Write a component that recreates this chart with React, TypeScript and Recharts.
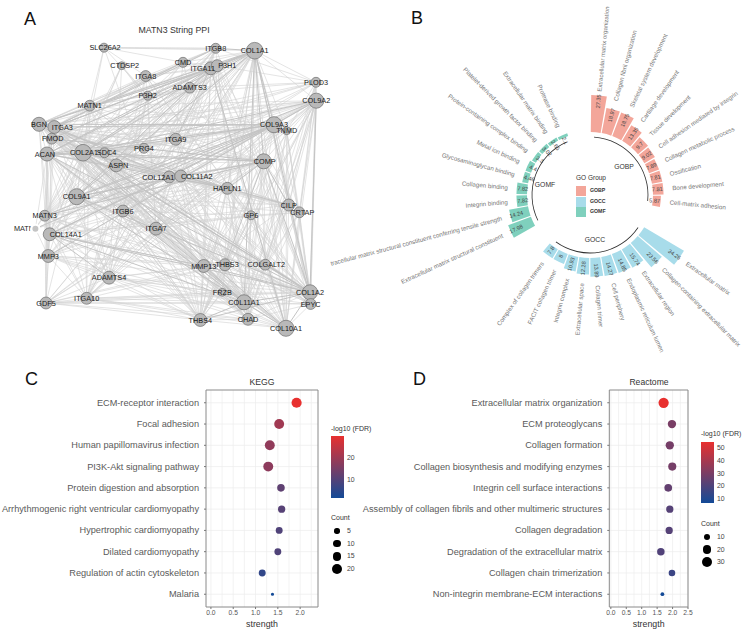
import React from 'react';
import {
  ComposedChart, Line, Scatter, ScatterChart, XAxis, YAxis, ZAxis, CartesianGrid, ReferenceArea, Cell, LabelList,
  RadialBarChart, RadialBar, PolarAngleAxis, PolarRadiusAxis, PieChart, Pie,
} from 'recharts';

const FONT = '"Liberation Sans", Arial, sans-serif';

// ---- panel A: layout, in picture units
const nodeNames = ['SLC26A2', 'ITGB8', 'COL1A1', 'CMD', 'ITGA11', 'P3H1', 'CTDSP2', 'ITGA8', 'PLOD3', 'ADAMTS3', 'P3H2', 'COL9A2', 'MATN1', 'BGN', 'ITGA3', 'COL9A3', 'TNMD', 'FMOD', 'ITGA9', 'PRG4', 'COL2A1', 'SDC4', 'ACAN', 'ASPN', 'COMP', 'COL12A1', 'COL11A2', 'HAPLN1', 'COL9A1', 'CILP', 'CRTAP', 'ITGB6', 'MATN3', 'GP6', 'MATN4', 'COL14A1', 'ITGA7', 'MMP3', 'MMP13', 'THBS3', 'COLGALT2', 'ADAMTS4', 'ITGA10', 'GDF5', 'FRZB', 'COL1A2', 'COL11A1', 'EPYC', 'THBS4', 'CHAD', 'COL10A1'];
const nodeX = [104, 215.7, 254.7, 183, 210.7, 217.3, 121.7, 145.7, 316, 189.7, 147.7, 316.3, 89.7, 39, 54.3, 274, 286.7, 51.7, 175.7, 144, 83, 104.5, 47, 116.3, 263.7, 169.3, 180.7, 227.3, 76.7, 288.7, 299.3, 123, 44.7, 251, 35.4, 49.7, 156, 48.3, 203.7, 225, 265.3, 109, 86.7, 46, 222.3, 310, 244, 310.7, 200.3, 248, 286];
const nodeY = [47.7, 48.3, 50.7, 62.3, 68.3, 65.7, 65.7, 76, 82.3, 87.7, 95.7, 100.7, 105.7, 124.3, 127, 124.7, 130.7, 138.7, 139.3, 148.3, 152.7, 152.7, 154, 165.3, 161.3, 177, 176, 188.3, 196.7, 205, 212.3, 211, 215.7, 215.3, 228.7, 234.3, 228.7, 256, 266, 264.7, 264.7, 277.7, 298.3, 303, 292.3, 292.3, 302.3, 304, 320, 319.3, 328.3];
const nodeDegree = [7, 10, 39, 10, 21, 17, 4, 13, 10, 13, 7, 31, 13, 26, 21, 36, 4, 13, 17, 10, 39, 10, 26, 21, 31, 17, 17, 17, 36, 17, 13, 17, 13, 7, 4, 21, 21, 21, 21, 17, 13, 21, 17, 17, 4, 31, 31, 13, 21, 17, 36];
const labelShift = [1, 0, 0, 0, -8, 10, 3, 0, 0, 0, 0, 0, 0, 0, 8, 0, 0, 1, 0, 0, 1, 2, -2, 2, 1, -11, 16, 0, 0, 0, 3, 0, 0, 0, -9.4, 16, 0, 0, 0, 2, 1, 0, 0, 0, 0, 0, 0, 0, 0, 0, 0];

// who is tied to whom
const heavyLinks: [string, string][] = [
  ['COL1A1', 'COL1A2 COL2A1 COL9A3 COMP BGN ITGA3 COL11A1 ITGA11 FMOD ACAN P3H1 ITGB8 COL9A1'],
  ['COL9A3', 'COL2A1 COL9A1 ACAN BGN ITGA3 COL14A1 MATN3 COL9A2 COL12A1 MATN4 MMP3'],
  ['COL2A1', 'COL1A2 COL10A1 COL11A1 COMP ACAN COL9A2 ITGA11 HAPLN1 COL12A1'],
  ['COL9A1', 'COL9A2 COL1A2 COMP COL11A2 COL11A1 ITGA11'],
  ['COL1A2', 'BGN COMP COL11A1 MMP13 THBS4 ITGA3 COL14A1 ACAN COL9A2 COL10A1'],
  ['COMP', 'ACAN MATN3 HAPLN1 CILP COL11A2 THBS3 FMOD'],
  ['HAPLN1', 'CILP ACAN COL11A2 COL12A1 BGN'],
  ['ITGA3', 'ITGB8 CMD ITGA11 COL12A1'],
  ['COL11A1', 'THBS4 MMP13 ITGA7 COL10A1 ACAN'],
  ['COL14A1', 'COL12A1 COL11A1 ADAMTS4 MMP13'],
  ['ITGA11', 'BGN ACAN ITGA9 COL10A1'],
];
const lightLinks: [string, string][] = [
  ['COL1A1', 'CMD ITGA8 ADAMTS3 PLOD3 COL9A2 ASPN COL12A1 COL11A2 HAPLN1 CILP CRTAP TNMD ITGB6 ITGA7 MMP3 MMP13 THBS3 COLGALT2 FRZB EPYC THBS4 CHAD COL10A1 ITGA10 COL14A1 ADAMTS4 SLC26A2 MATN1 MATN3 PRG4 SDC4 GP6 ITGA9 P3H2 GDF5'],
  ['COL1A2', 'COL2A1 COL9A3 FMOD ASPN COL12A1 COL11A2 ITGB6 ITGA7 MMP3 THBS3 COLGALT2 FRZB EPYC CHAD ITGA10 ADAMTS4 GDF5 MATN3 HAPLN1 CILP CRTAP PLOD3 ITGA11 ITGA8 ITGA9 PRG4 TNMD P3H1 SDC4 ITGB8'],
  ['COL2A1', 'COL9A3 COL9A1 BGN FMOD MATN1 MATN3 MATN4 COL11A2 CHAD CILP CRTAP THBS3 THBS4 MMP3 MMP13 ITGA10 GDF5 SLC26A2 ITGB8 PLOD3 P3H1 P3H2 CTDSP2 EPYC COL14A1 ASPN ITGA3 PRG4 ADAMTS4 ADAMTS3 COLGALT2 ITGA7 ITGB6 ITGA9 ITGA8 CMD TNMD'],
  ['COL9A1', 'COL9A3 MATN3 MATN1 ACAN COL10A1 THBS4 MMP13 CHAD HAPLN1 ITGB8 PLOD3 P3H1 BGN THBS3 EPYC CMD ADAMTS3 ITGA3 COLGALT2 CILP CRTAP'],
  ['COL9A3', 'COMP COL11A1 COL11A2 COL10A1 TNMD ITGB6 FMOD ITGA7 HAPLN1 GDF5 MATN1 EPYC ASPN ADAMTS4 ITGA10 PRG4 SDC4 THBS4 MMP13'],
  ['COL9A2', 'COMP COL11A1 COL11A2 COL10A1 MATN3 MATN1 ACAN BGN EPYC CILP CRTAP TNMD PLOD3 ITGA3 FMOD ASPN COL12A1 COL14A1 MATN4 MMP3 HAPLN1 THBS4 CHAD MMP13 ITGA7 ITGB6 GDF5 THBS3 COLGALT2 ITGA10 ITGA9 SDC4'],
  ['COL10A1', 'COL11A1 COL11A2 COL12A1 COMP MMP3 MMP13 ACAN BGN ITGA3 FMOD THBS4 CHAD EPYC THBS3 COLGALT2 HAPLN1 ASPN GP6 ITGA10 ITGB6 ITGA7 MATN3 COL14A1 CILP ITGA9 TNMD CRTAP'],
  ['COL11A1', 'COL11A2 COL12A1 COMP BGN FMOD ASPN CHAD EPYC THBS3 COLGALT2 HAPLN1 GP6 ITGA10 ITGB6 MATN3 MATN1 FRZB ITGA9 SDC4 ADAMTS4 MMP3 PRG4 GDF5 CRTAP CILP ITGA3'],
  ['COL11A2', 'COL12A1 ACAN BGN MATN3 MATN1 THBS4 CHAD MMP13 ITGA11 FMOD ITGA3 P3H1 EPYC'],
  ['COL12A1', 'BGN ACAN FMOD ASPN MMP13 THBS4 ITGA7 ITGA3 HAPLN1 COMP ITGB8 MMP3 CILP'],
  ['COMP', 'BGN ASPN MATN1 MATN3 MATN4 THBS4 MMP3 MMP13 CHAD GDF5 ITGA7 ITGA3 ITGB6 CILP CRTAP GP6 COLGALT2 ITGA11 ITGA8 ITGA10 PRG4 EPYC ITGA9'],
  ['ACAN', 'BGN FMOD ASPN MATN1 MATN3 MATN4 MMP3 MMP13 THBS4 ADAMTS4 ADAMTS3 GDF5 PRG4 CHAD ITGA10 ITGA3 SDC4 FRZB EPYC THBS3 CILP COL14A1 ITGA8'],
  ['BGN', 'FMOD ASPN MATN1 MMP3 MMP13 THBS4 ITGA3 SDC4 PRG4 ITGB8 ADAMTS4 COL14A1 EPYC CILP CHAD THBS3 ITGA8 CMD P3H1 ADAMTS3'],
  ['ITGA3', 'ITGA8 ITGB6 ITGA9 MATN1 COL14A1 THBS4 THBS3 MMP13 SDC4 ITGA7 P3H1 ADAMTS3 GP6 CILP FMOD THBS4'],
  ['ITGA11', 'FMOD COL14A1 MATN3 MMP3 THBS4 MMP13 ITGA7 ITGA8 ITGB8 P3H1 GP6 COL10A1 ITGB6 MATN1 CMD ADAMTS3'],
  ['ITGB8', 'ITGA8 ITGA9 ITGA7 SLC26A2 CMD P3H1 ITGA10 MATN1 ASPN COL14A1 ITGB6 MATN3'],
  ['THBS4', 'CHAD COL14A1 ITGA7 GDF5 ITGA10 ADAMTS4 MMP3 ITGB6 HAPLN1 COL9A2 ASPN THBS3 FRZB MMP13'],
  ['MMP13', 'MMP3 ASPN ADAMTS4 ITGA7 COL14A1 GDF5 FRZB MATN3 CHAD HAPLN1 THBS3 ITGA9 ITGB6 SDC4'],
  ['MMP3', 'GDF5 ITGA10 ADAMTS4 MATN3 COL14A1 FMOD ITGA7 ASPN THBS3 MATN4'],
  ['GDF5', 'ITGA10 MATN3 COL14A1 ADAMTS4 CHAD FRZB THBS3 ACAN EPYC ITGB6'],
  ['MATN3', 'MATN1 MATN4 COL14A1 ITGA10 FMOD ADAMTS4 P3H2 ITGB6 CTDSP2 PRG4 ITGA8'],
  ['MATN1', 'SLC26A2 P3H2 ITGA8 CMD ADAMTS3 ITGA10 COL14A1 FMOD ITGB6 PRG4 ASPN'],
  ['SLC26A2', 'ITGB8 CMD ITGA8 P3H2 THBS4'],
  ['CTDSP2', 'P3H2 ITGA9 ASPN COL14A1'],
  ['P3H1', 'PLOD3 P3H2 CMD ITGA8 COL11A1 COL10A1 CHAD ITGA10 THBS4'],
  ['PLOD3', 'COL10A1 COL11A1 COL14A1 CILP P3H2 ITGB8 COL12A1 EPYC ADAMTS3 TNMD CRTAP COLGALT2 FMOD ACAN'],
  ['HAPLN1', 'ASPN MATN1 MATN3 CHAD THBS3 COL14A1 GP6 CRTAP EPYC FMOD MMP3 GDF5'],
  ['TNMD', 'CILP EPYC THBS4 CRTAP COLGALT2 FMOD COL14A1 ITGA7 CHAD ITGA3'],
  ['CILP', 'ASPN EPYC CHAD FMOD COL14A1 MMP13 COLGALT2 THBS4'],
  ['CRTAP', 'EPYC P3H1 COLGALT2 CHAD COL14A1 GP6'],
  ['GP6', 'ITGA7 THBS4 CHAD ITGB6 COL14A1 ITGA9 ITGA8 THBS3 EPYC'],
  ['ASPN', 'FMOD SDC4 PRG4 ADAMTS4 EPYC ITGA7 CHAD ADAMTS3 ITGA10 FRZB'],
  ['ADAMTS4', 'ITGA10 ITGB6 FRZB ITGA9 ADAMTS3 CHAD P3H2 THBS3 EPYC'],
  ['ITGA10', 'ITGA8 ITGB6 ITGA9 ITGA7 CHAD FRZB P3H2 COL14A1 THBS3'],
  ['ITGA7', 'ITGA8 ITGB6 ITGA9 P3H2 CHAD COLGALT2 FRZB SDC4 FMOD'],
  ['ITGB6', 'ITGA8 ITGA9 P3H2 THBS3 COL14A1 FRZB SDC4'],
  ['ITGA9', 'ITGA8 ADAMTS3 P3H1 THBS3 SDC4 PRG4 CMD'],
  ['THBS3', 'CHAD EPYC FRZB COLGALT2 FMOD COL14A1 SDC4'],
  ['FMOD', 'PRG4 SDC4 EPYC CHAD COL14A1 FRZB'],
  ['CHAD', 'EPYC FRZB COLGALT2'],
  ['SDC4', 'PRG4 COL14A1 CMD ADAMTS3'],
  ['ADAMTS3', 'P3H2 PRG4 CMD EPYC'],
];

// ---- panel B
const goSlots = ['s0', 's1', 's2', 's3', 's4', 's5', 's6', 's7', 's8', 's9', 'gap0', 'gap1', 'c0', 'c1', 'c2', 'c3', 'c4', 'c5', 'c6', 'c7', 'c8', 'c9', 'gap2', 'gap3', 'm0', 'm1', 'm2', 'm3', 'm4', 'm5', 'm6', 'm7', 'm8', 'm9', 'gap4', 'gap5'];
const goTerms = [
  'Extracellular matrix organization', 'Collagen fibril organization', 'Skeletal system development', 'Cartilage development', 'Tissue development', 'Cell adhesion mediated by integrin', 'Collagen metabolic process', 'Ossification', 'Bone development', 'Cell-matrix adhesion',
  '', '',
  'Extracellular matrix', 'Collagen-containing extracellular matrix', 'Extracellular region', 'Endoplasmic reticulum lumen', 'Cell periphery', 'Collagen trimer', 'Extracellular space', 'Integrin complex', 'FACIT collagen trimer', 'Complex of collagen trimers',
  '', '',
  'Extracellular matrix structural constituent', 'tracellular matrix structural constituent conferring tensile strength', 'Integrin binding', 'Collagen binding', 'Glycosaminoglycan binding', 'Metal ion binding', 'Protein-containing complex binding', 'Platelet-derived growth factor binding', 'Extracellular matrix binding', 'Protease binding',
  '', '',
];
const goValues = [
  27.35, 18.97, 18.75, 13.35, 9.7, 9.02, 7.89, 7.81, 7.81, 5.87,
  null, null,
  34.26, 23.56, 15.74, 14.85, 14.27, 13.89, 12.28, 10.93, 8, 7.8,
  null, null,
  17.98, 14.24, 7.82, 7.82, 4.46, 4.4, 3.3, 3.02, 2.65, 2.1,
  null, null,
];
const goGroups = ['GOBP', 'GOCC', 'GOMF'];
const goColors = ['#f3a69a', '#a8dcea', '#7fd0bd'];
const goArcs = [[4, 96], [124, 216], [244, 336]];

// ---- panel C
const keggTerms = ['ECM-receptor interaction', 'Focal adhesion', 'Human papillomavirus infection', 'PI3K-Akt signaling pathway', 'Protein digestion and absorption', 'Arrhythmogenic right ventricular cardiomyopathy', 'Hypertrophic cardiomyopathy', 'Dilated cardiomyopathy', 'Regulation of actin cytoskeleton', 'Malaria'];
const keggStrength = [1.92, 1.53, 1.32, 1.285, 1.57, 1.585, 1.53, 1.5, 1.15, 1.38];
const keggCount = [20, 19, 19, 19, 11, 10, 9, 9, 9, 1.5];
const keggFdr = [30, 20.5, 18.5, 18, 12, 11, 10, 10, 6, 2];
const keggFdrTicks = [20, 10];
const keggCountTicks = [5, 10, 15, 20];

// ---- panel D
const reactomeTerms = ['Extracellular matrix organization', 'ECM proteoglycans', 'Collagen formation', 'Collagen biosynthesis and modifying enzymes', 'Integrin cell surface interactions', 'Assembly of collagen fibrils and other multimeric structures', 'Collagen degradation', 'Degradation of the extracellular matrix', 'Collagen chain trimerization', 'Non-integrin membrane-ECM interactions'];
const reactomeStrength = [1.71, 1.98, 1.91, 1.99, 1.86, 1.91, 1.89, 1.62, 1.98, 1.67];
const reactomeCount = [31, 20, 20, 19, 17, 15, 15, 16, 12, 3];
const reactomeFdr = [55, 30, 29, 29, 25, 22, 22, 21, 16, 7];
const reactomeFdrTicks = [50, 40, 30, 20, 10];
const reactomeCountTicks = [10, 20, 30];

const BLUE = [19, 74, 151];
const RED = [232, 48, 47];
const fdrColor = (v: number, lo: number, hi: number) => {
  const t = Math.max(0, Math.min(1, (v - lo) / (hi - lo)));
  const c = BLUE.map((b, i) => Math.round(b + (RED[i] - b) * t));
  return `rgb(${c[0]},${c[1]},${c[2]})`;
};

const nodeAt = (name: string) => {
  const i = nodeNames.indexOf(name);
  return { x: nodeX[i], y: nodeY[i] };
};

// one row per link end, with an empty row so the line lifts between links
const linkRows = (links: [string, string][]) => {
  const rows: any[] = [];
  links.forEach(([from, others]) => {
    others.split(' ').forEach((to) => {
      const a = nodeAt(from);
      const b = nodeAt(to);
      rows.push(a, b, { x: b.x, y: null });
    });
  });
  return rows;
};

const nodes = nodeNames.map((name, i) => ({ name, x: nodeX[i], y: nodeY[i], degree: nodeDegree[i], shift: labelShift[i] }));
const goData = goSlots.map((slot, i) => ({ slot, term: goTerms[i], value: goValues[i] }));

const Txt = ({ x, y, size, color = '#444', anchor = 'start', bold = false, children }: any) => (
  <div style={{
    position: 'absolute', left: x, top: y, fontSize: size, color, fontWeight: bold ? 700 : 400, whiteSpace: 'nowrap', lineHeight: 1,
    transform: `translate(${anchor === 'middle' ? '-50%' : anchor === 'end' ? '-100%' : '0'}, -50%)`,
  }}>{children}</div>
);

const NodeLabel = (props: any) => (
  <text x={props.cx + props.payload.shift} y={props.cy + 2.6} textAnchor="middle" textRendering="geometricPrecision" fontSize={7.3} fontFamily={FONT} fill="#1a1a1a">{props.payload.name}</text>
);

const NetworkPanel = () => (
  <div style={{ position: 'absolute', left: 0, top: 0 }}>
    <ComposedChart width={370} height={345} margin={{ top: 0, right: 0, bottom: 0, left: 0 }}>
      <XAxis type="number" dataKey="x" domain={[0, 370]} hide allowDataOverflow />
      <YAxis type="number" dataKey="y" domain={[0, 345]} reversed hide allowDataOverflow />
      <ZAxis type="number" dataKey="degree" domain={[0, 40]} range={[30, 222]} />
      <Line data={linkRows(lightLinks)} dataKey="y" stroke="#d2d2d2" strokeWidth={0.6} dot={false} isAnimationActive={false} legendType="none" />
      <Line data={linkRows(heavyLinks)} dataKey="y" stroke="#c4c4c4" strokeWidth={1} dot={false} isAnimationActive={false} legendType="none" />
      <Scatter data={nodes} dataKey="y" fill="#b9b9b9" stroke="#6e6e6e" strokeWidth={0.7} isAnimationActive={false} />
      <Scatter data={nodes} dataKey="y" shape={NodeLabel} isAnimationActive={false} />
    </ComposedChart>
  </div>
);

const BarLabels = (props: any) => {
  const { viewBox, index } = props;
  if (!viewBox || !goTerms[index]) return null;
  const { cx, cy, outerRadius, startAngle, endAngle } = viewBox;
  const mid = (startAngle + endAngle) / 2;
  const rad = (mid * Math.PI) / 180;
  const clock = ((90 - mid) % 360 + 360) % 360;
  const right = clock < 180;
  const rot = right ? clock - 90 : clock - 270;
  const at = (r: number) => ({ x: cx + r * Math.cos(rad), y: cy - r * Math.sin(rad) });
  const v = at(outerRadius - 6);
  // the tallest GOBP label sits closer to its bar so it stays on the page
  const t = at(outerRadius + (index === 0 ? 4 : 9));
  return (
    <g>
      <text x={v.x} y={v.y + 1.8} textAnchor="middle" fontSize={5.6} fontFamily={FONT} fill="#444" transform={`rotate(${rot} ${v.x} ${v.y})`}>{goValues[index]}</text>
      <text x={t.x} y={t.y + 2.2} textAnchor={right ? 'start' : 'end'} fontSize={index === 0 ? 6 : 6.2} fontFamily={FONT} fill="#777" transform={`rotate(${rot} ${t.x} ${t.y})`}>{goTerms[index]}</text>
    </g>
  );
};

const GoPanel = () => (
  <div style={{ position: 'absolute', left: 330, top: 0, width: 420, height: 360, overflow: 'hidden' }}>
    <div style={{ position: 'absolute', left: 0, top: 0 }}>
      <RadialBarChart width={420} height={360} data={goData} layout="centric" cx={260} cy={195} innerRadius={63} outerRadius={110.25} startAngle={80} endAngle={-280} barCategoryGap="3%" margin={{ top: 0, right: 0, bottom: 0, left: 0 }}>
        <PolarAngleAxis type="category" dataKey="slot" tick={false} axisLine={false} tickLine={false} />
        <PolarRadiusAxis type="number" domain={[0, 35]} tick={false} axisLine={false} tickLine={false} />
        <RadialBar dataKey="value" isAnimationActive={false}>
          {goData.map((d, i) => <Cell key={d.slot} fill={goColors[Math.min(2, Math.floor(i / 12))]} />)}
          <LabelList dataKey="value" content={BarLabels} />
        </RadialBar>
      </RadialBarChart>
    </div>
    <div style={{ position: 'absolute', left: 0, top: 0 }}>
      <PieChart width={420} height={360} margin={{ top: 0, right: 0, bottom: 0, left: 0 }}>
        {goArcs.map(([from, to]) => (
          <Pie key={from} data={[{ v: 1 }]} dataKey="v" cx={260} cy={195} innerRadius={57.6} outerRadius={58.4} startAngle={90 - from} endAngle={90 - to} fill="#2f2f2f" stroke="none" isAnimationActive={false} />
        ))}
      </PieChart>
    </div>
  </div>
);

const bubbleArea = (count: number, top: number) => 6 + ((count - 1) / (top - 1)) * 79;

const TermTick = ({ x, y, payload, terms }: any) => (
  <text x={x} y={y + 3} textAnchor="end" fontSize={9.2} fontFamily={FONT} fill="#5a5a5a">{terms[payload.value - 1]}</text>
);

const DotPlot = ({ left, width, plotLeft, plotRight, domain, xTicks, minor, terms, strength, count, fdr, lo, hi, countTop }: any) => {
  const rows = terms.map((name: string, i: number) => ({ pos: i + 1, strength: strength[i], count: count[i], fdr: fdr[i] }));
  return (
    <div style={{ position: 'absolute', left, top: 375 }}>
      <ScatterChart width={width} height={256} margin={{ top: 15, right: width - plotRight, bottom: 0, left: 0 }}>
        <CartesianGrid horizontalValues={rows.map((r: any) => r.pos)} verticalValues={minor} stroke="#ececec" strokeWidth={0.7} />
        <XAxis type="number" dataKey="strength" domain={domain} ticks={xTicks} allowDataOverflow height={24} tickFormatter={(v: number) => v.toFixed(1)} tick={{ fontSize: 6.7, fill: '#555', fontFamily: FONT }} tickSize={2} tickMargin={1} axisLine={false} stroke="#777" interval={0}
          label={{ value: 'strength', position: 'insideBottom', offset: 4, fontSize: 8.8, fill: '#333', fontFamily: FONT }} />
        <YAxis type="number" dataKey="pos" domain={[0.4, 10.6]} reversed ticks={rows.map((r: any) => r.pos)} width={plotLeft} tick={<TermTick terms={terms} />} tickSize={2} tickMargin={5} axisLine={false} stroke="#777" interval={0} />
        <ZAxis type="number" dataKey="count" domain={[1, countTop]} range={[6, 85]} />
        <ReferenceArea x1={domain[0]} x2={domain[1]} y1={0.4} y2={10.6} fill="none" stroke="#8a8a8a" strokeWidth={1} ifOverflow="visible" />
        <Scatter data={rows} isAnimationActive={false}>
          {rows.map((r: any) => <Cell key={r.pos} fill={fdrColor(r.fdr, lo, hi)} />)}
        </Scatter>
      </ScatterChart>
    </div>
  );
};

const BarLegend = ({ x, titleY, top, height, ticks, lo, hi }: any) => (
  <>
    <Txt x={x} y={titleY} size={7} color="#333">-log10 (FDR)</Txt>
    <div style={{ position: 'absolute', left: x, top, width: 12.5, height, background: `linear-gradient(to bottom, ${fdrColor(hi, lo, hi)}, ${fdrColor(lo, lo, hi)})` }} />
    {ticks.map((t: number) => (
      <Txt key={t} x={x + 16} y={top + height - ((t - lo) / (hi - lo)) * height} size={6.9} color="#444">{t}</Txt>
    ))}
  </>
);

const CountLegend = ({ x, titleY, firstY, step, ticks, top }: any) => (
  <>
    <Txt x={x} y={titleY} size={7} color="#333">Count</Txt>
    {ticks.map((t: number, i: number) => {
      const r = Math.sqrt(bubbleArea(t, top) / Math.PI);
      return (
        <React.Fragment key={t}>
          <div style={{ position: 'absolute', left: x + 6 - r, top: firstY + i * step - r, width: 2 * r, height: 2 * r, borderRadius: '50%', background: '#000' }} />
          <Txt x={x + 16} y={firstY + i * step} size={6.9} color="#444">{t}</Txt>
        </React.Fragment>
      );
    })}
  </>
);

export default function App() {
  return (
    <div style={{ position: 'absolute', left: 0, top: 0, width: 750, height: 631, background: '#fff', overflow: 'hidden', fontFamily: FONT }}>
      <NetworkPanel />
      <GoPanel />
      <DotPlot left={0} width={330} plotLeft={206} plotRight={318} domain={[-0.11, 2.4]} xTicks={[0, 0.5, 1, 1.5, 2]} minor={[0, 0.25, 0.5, 0.75, 1, 1.25, 1.5, 1.75, 2, 2.25]} terms={keggTerms} strength={keggStrength} count={keggCount} fdr={keggFdr} lo={2} hi={30} countTop={21} />
      <DotPlot left={340} width={360} plotLeft={269.3} plotRight={348} domain={[-0.05, 2.5]} xTicks={[0, 0.5, 1, 1.5, 2, 2.5]} minor={[0, 0.25, 0.5, 0.75, 1, 1.25, 1.5, 1.75, 2, 2.25, 2.5]} terms={reactomeTerms} strength={reactomeStrength} count={reactomeCount} fdr={reactomeFdr} lo={7} hi={55} countTop={32} />

      <Txt x={24} y={19} size={18} color="#111">A</Txt>
      <Txt x={411} y={18} size={18} color="#111">B</Txt>
      <Txt x={25} y={379} size={18} color="#111">C</Txt>
      <Txt x={413} y={379} size={18} color="#111">D</Txt>

      <Txt x={174} y={30} size={8.8} anchor="middle" color="#333">MATN3 String PPI</Txt>
      <Txt x={262} y={382} size={8.7} anchor="middle" color="#333">KEGG</Txt>
      <Txt x={649} y={382} size={8.6} anchor="middle" color="#333">Reactome</Txt>

      <Txt x={624} y={167} size={6.8} anchor="middle" color="#333">GOBP</Txt>
      <Txt x={595} y={240} size={6.8} anchor="middle" color="#333">GOCC</Txt>
      <Txt x={545} y={185} size={6.8} anchor="middle" color="#333">GOMF</Txt>
      <Txt x={576} y={178} size={6.5} color="#333">GO Group</Txt>
      {goGroups.map((g, i) => (
        <React.Fragment key={g}>
          <div style={{ position: 'absolute', left: 576, top: 186 + i * 10.7, width: 10.4, height: 10, background: goColors[i] }} />
          <Txt x={590} y={191 + i * 10.7} size={5.2} bold color="#333">{g}</Txt>
        </React.Fragment>
      ))}

      <BarLegend x={331} titleY={428} top={436} height={62} ticks={keggFdrTicks} lo={2} hi={30} />
      <CountLegend x={331} titleY={517} firstY={531} step={12.6} ticks={keggCountTicks} top={21} />
      <BarLegend x={701} titleY={433} top={442} height={61} ticks={reactomeFdrTicks} lo={7} hi={55} />
      <CountLegend x={701} titleY={523} firstY={537} step={12.5} ticks={reactomeCountTicks} top={32} />
    </div>
  );
}
